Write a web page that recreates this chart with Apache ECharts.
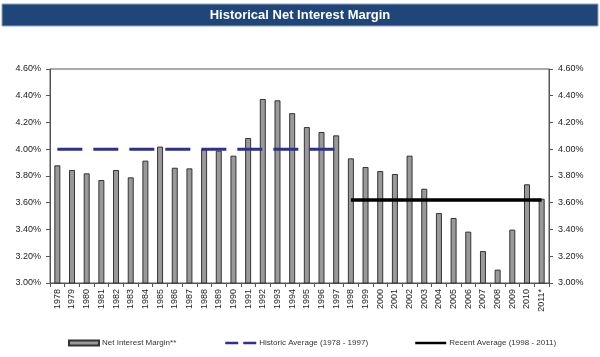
<!DOCTYPE html>
<html>
<head>
<meta charset="utf-8">
<script src="https://cdn.jsdelivr.net/npm/echarts@6/dist/echarts.min.js"></script>
<style>
html,body{margin:0;padding:0;background:#fff;}
#chart{width:600px;height:357px;}
</style>
</head>
<body>
<div id="chart"></div>
<script>
var years = ['1978','1979','1980','1981','1982','1983','1984','1985','1986','1987','1988','1989','1990','1991','1992','1993','1994','1995','1996','1997','1998','1999','2000','2001','2002','2003','2004','2005','2006','2007','2008','2009','2010','2011*'];
var netInterestMargin = [3.88,3.845,3.82,3.77,3.845,3.79,3.915,4.02,3.862,3.857,4.00,3.99,3.952,4.084,4.376,4.366,4.27,4.166,4.129,4.104,3.932,3.867,3.837,3.815,3.952,3.705,3.523,3.486,3.384,3.239,3.10,3.399,3.738,3.63];
var historicAvg = 4.00;   // 1978 - 1997
var recentAvg = 3.62;     // 1998 - 2011
var historicStart = '1978', historicEnd = '1997';
var recentStart = '1998', recentEnd = '2011*';
var yTicks = [3.0, 3.2, 3.4, 3.6, 3.8, 4.0, 4.2, 4.4, 4.6];

function spanData(value, from, to) {
  var a = years.indexOf(from), b = years.indexOf(to);
  return years.map(function (y, i) { return (i >= a && i <= b) ? value : '-'; });
}

var chart = echarts.init(document.getElementById('chart'), null, {renderer: 'canvas'});
var fontFam = 'Arial, "Liberation Sans", sans-serif';
var yAxisCommon = {
  type: 'value',
  min: yTicks[0],
  max: yTicks[yTicks.length - 1],
  interval: 0.2,
  splitLine: {show: false},
  axisLine: {show: true, lineStyle: {color: '#555', width: 1}},
  axisTick: {show: true, length: 4, lineStyle: {color: '#555'}},
  axisLabel: {
    fontSize: 9, color: '#222', fontFamily: fontFam, margin: 9,
    formatter: function (v) { return v.toFixed(2) + '%'; }
  }
};

chart.setOption({
  animation: false,
  backgroundColor: '#fff',
  graphic: [
    {type: 'rect', shape: {x: 2, y: 4, width: 596, height: 22},
     style: {fill: '#1f4579', stroke: '#8ea6c8', lineWidth: 1}},
    {type: 'text', x: 300, y: 15,
     style: {text: 'Historical Net Interest Margin', fill: '#fff',
             font: 'bold 13px "Liberation Sans Narrow", "Arial Narrow", Arial, sans-serif',
             textAlign: 'center', textVerticalAlign: 'middle'}}
  ],
  grid: {left: 50, right: 51, top: 69, bottom: 74, show: true, borderColor: '#555', borderWidth: 1, backgroundColor: 'transparent'},
  xAxis: {
    type: 'category',
    data: years,
    boundaryGap: true,
    axisLine: {show: true, lineStyle: {color: '#555'}},
    axisTick: {show: true, length: 4, alignWithLabel: false, lineStyle: {color: '#555'}},
    axisLabel: {rotate: 90, interval: 0, fontSize: 9, color: '#222', fontFamily: fontFam, margin: 6}
  },
  yAxis: [
    Object.assign({}, yAxisCommon, {position: 'left'}),
    Object.assign({}, yAxisCommon, {position: 'right'})
  ],
  legend: [
    {left: 63, top: 334, itemWidth: 30, itemHeight: 5, itemGap: 0,
     textStyle: {fontSize: 8, color: '#333', fontFamily: fontFam, padding: [0, 0, 0, -2]},
     data: [{name: 'Net Interest Margin**', icon: 'rect'}]},
    {left: 219, top: 334, itemWidth: 31, itemHeight: 5,
     textStyle: {fontSize: 8, color: '#333', fontFamily: fontFam, padding: [0, 0, 0, -2]},
     itemStyle: {opacity: 0},
     lineStyle: {type: [13, 5], width: 2.5},
     data: ['Historic Average (1978 - 1997)']},
    {left: 409, top: 334, itemWidth: 31, itemHeight: 5,
     textStyle: {fontSize: 8, color: '#333', fontFamily: fontFam, padding: [0, 0, 0, -2]},
     itemStyle: {opacity: 0},
     lineStyle: {width: 2.5},
     data: ['Recent Average (1998 - 2011)']}
  ],
  series: [
    {
      name: 'Net Interest Margin**',
      type: 'bar',
      data: netInterestMargin,
      barWidth: 6,
      itemStyle: {color: '#999999', borderColor: '#333', borderWidth: 1}
    },
    {
      name: 'Historic Average (1978 - 1997)',
      type: 'line',
      data: spanData(historicAvg, historicStart, historicEnd),
      symbol: 'none',
      itemStyle: {color: '#2b2f96'},
      lineStyle: {color: '#2b2f96', width: 3, type: [25, 11]},
      z: 5
    },
    {
      name: 'Recent Average (1998 - 2011)',
      type: 'line',
      data: spanData(recentAvg, recentStart, recentEnd),
      symbol: 'none',
      itemStyle: {color: '#000'},
      lineStyle: {color: '#000', width: 3.5},
      z: 5
    }
  ]
});
</script>
</body>
</html>
